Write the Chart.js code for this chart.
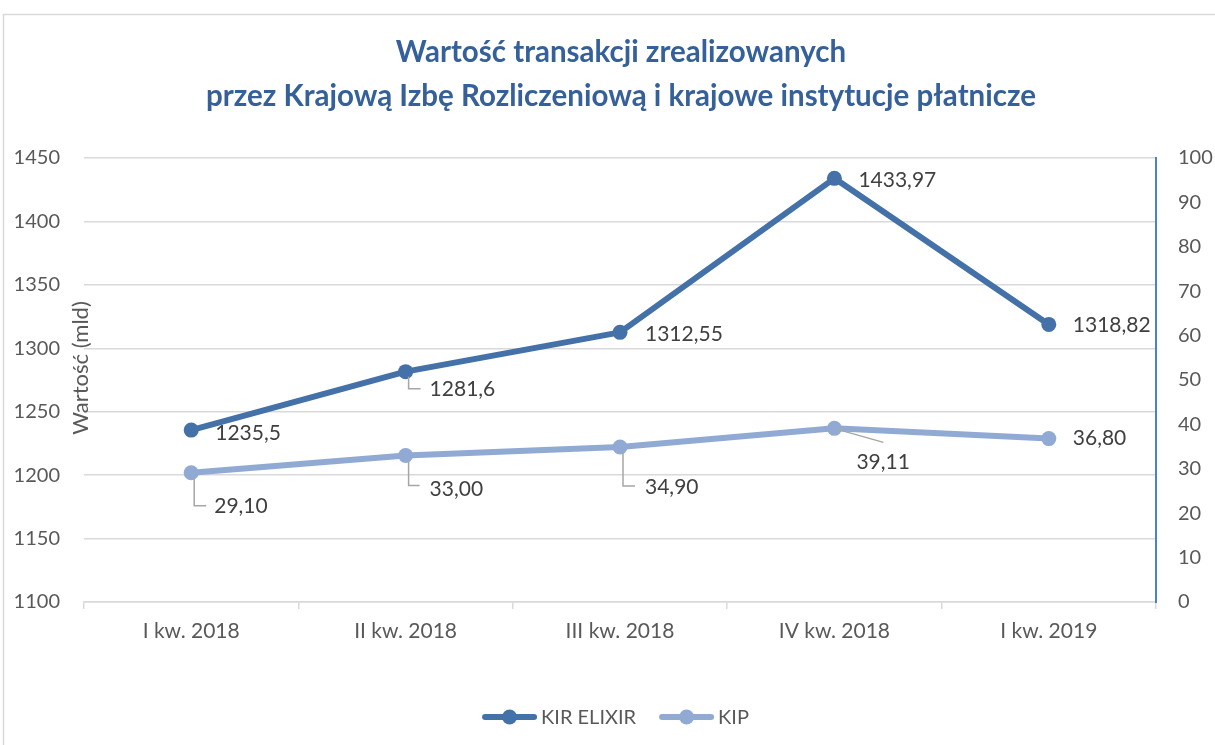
<!DOCTYPE html>
<html>
<head>
<meta charset="utf-8">
<script src="https://cdn.jsdelivr.net/npm/chart.js@4.4.1/dist/chart.umd.min.js"></script>
<style>
  html, body { margin: 0; padding: 0; background: #ffffff; }
  #wrap { width: 1215px; height: 745px; position: relative; }
</style>
</head>
<body>
<div id="wrap"><canvas id="c"></canvas></div>
<script>
// ---- data ----
const categories = ['I kw. 2018', 'II kw. 2018', 'III kw. 2018', 'IV kw. 2018', 'I kw. 2019'];
const kirElixir = [1235.5, 1281.6, 1312.55, 1433.97, 1318.82];
const kip = [29.10, 33.00, 34.90, 39.11, 36.80];
const leftAxis = { min: 1100, max: 1450, step: 50 };
const rightAxis = { min: 0, max: 100, step: 10 };
const titleLines = ['Wartość transakcji zrealizowanych', 'przez Krajową Izbę Rozliczeniową i krajowe instytucje płatnicze'];
const yTitle = 'Wartość (mld)';
const seriesNames = ['KIR ELIXIR', 'KIP'];

// ---- label placement (style only) ----
const kirLabelPos = [
  { dx: 24, dy: 3 },
  { dx: 24, dy: 18, leader: [[3, 5], [3, 17], [15, 17]] },
  { dx: 25, dy: 2 },
  { dx: 24, dy: 2 },
  { dx: 24, dy: 1 }
];
const kipLabelPos = [
  { dx: 23, dy: 33, leader: [[3, 5], [3, 33], [15, 33]] },
  { dx: 24, dy: 34, leader: [[3, 5], [3, 30], [14, 30]] },
  { dx: 25, dy: 40, leader: [[3, 5], [3, 39], [15, 39]] },
  { dx: 22, dy: 34, leader: [[3, 1], [49, 14]] },
  { dx: 24, dy: 0 }
];

const FONT = 'Lato, "Open Sans", sans-serif';
const C_KIR = '#4472A8';
const C_KIP = '#91AAD4';
const C_TEXT = '#595959';
const C_GRID = '#D9D9D9';
const C_TITLE = '#35609A';

const fmtKir = v => String(v).replace('.', ',');
const fmtKip = v => v.toFixed(2).replace('.', ',');

const decorPlugin = {
  id: 'decor',
  beforeDraw(chart) {
    const ctx = chart.ctx;
    ctx.save();
    ctx.strokeStyle = '#D9D9D9';
    ctx.lineWidth = 1.5;
    ctx.strokeRect(3.5, 14.5, 1230, 760);
    // title
    ctx.fillStyle = C_TITLE;
    ctx.font = 'bold 29.5px ' + FONT;
    ctx.textAlign = 'center';
    ctx.textBaseline = 'middle';
    titleLines.forEach((t, i) => ctx.fillText(t, 621, 52 + i * 44));
    ctx.restore();
  },
  afterDraw(chart) {
    const ctx = chart.ctx;
    ctx.save();
    // y axis title
    ctx.translate(81, 368);
    ctx.rotate(-Math.PI / 2);
    ctx.font = '22px ' + FONT;
    ctx.fillStyle = C_TEXT;
    ctx.textAlign = 'center';
    ctx.textBaseline = 'middle';
    ctx.fillText(yTitle, 0, 0);
    ctx.restore();

    // legend
    ctx.save();
    ctx.font = '20px ' + FONT;
    const lineLen = 55, gapText = 4, itemGap = 23;
    const colors = [C_KIR, C_KIP];
    const widths = seriesNames.map(n => ctx.measureText(n).width);
    let total = 0;
    widths.forEach((w, i) => { total += lineLen + gapText + w + (i < widths.length - 1 ? itemGap : 0); });
    let x = 615.5 - total / 2;
    const y = 717;
    seriesNames.forEach((n, i) => {
      ctx.strokeStyle = colors[i];
      ctx.lineWidth = 6;
      ctx.lineCap = 'round';
      ctx.beginPath();
      ctx.moveTo(x + 3, y);
      ctx.lineTo(x + lineLen - 3, y);
      ctx.stroke();
      ctx.fillStyle = colors[i];
      ctx.beginPath();
      ctx.arc(x + lineLen / 2, y, 7.5, 0, Math.PI * 2);
      ctx.fill();
      ctx.fillStyle = C_TEXT;
      ctx.textAlign = 'left';
      ctx.textBaseline = 'middle';
      ctx.fillText(n, x + lineLen + gapText, y + 1);
      x += lineLen + gapText + widths[i] + itemGap;
    });
    ctx.restore();
  },
  afterDatasetsDraw(chart) {
    const ctx = chart.ctx;
    const sets = [
      { idx: 0, pos: kirLabelPos, vals: kirElixir, fmt: fmtKir },
      { idx: 1, pos: kipLabelPos, vals: kip, fmt: fmtKip }
    ];
    ctx.save();
    ctx.font = '21px ' + FONT;
    ctx.fillStyle = '#404040';
    ctx.textAlign = 'left';
    ctx.textBaseline = 'middle';
    sets.forEach(s => {
      const meta = chart.getDatasetMeta(s.idx);
      meta.data.forEach((el, i) => {
        const p = s.pos[i];
        if (p.leader) {
          ctx.strokeStyle = '#A6A6A6';
          ctx.lineWidth = 1.5;
          ctx.beginPath();
          p.leader.forEach((pt, k) => {
            const px = el.x + pt[0], py = el.y + pt[1];
            if (k === 0) ctx.moveTo(px, py); else ctx.lineTo(px, py);
          });
          ctx.stroke();
        }
        ctx.fillText(s.fmt(s.vals[i]), el.x + p.dx, el.y + p.dy);
      });
    });
    ctx.restore();
  }
};

new Chart(document.getElementById('c'), {
  type: 'line',
  data: {
    labels: categories,
    datasets: [
      {
        label: seriesNames[0],
        data: kirElixir,
        yAxisID: 'y',
        borderColor: C_KIR,
        backgroundColor: C_KIR,
        borderWidth: 6,
        pointRadius: 7.5,
        pointHoverRadius: 7.5,
        pointBackgroundColor: C_KIR,
        pointBorderColor: C_KIR,
        pointBorderWidth: 0,
        tension: 0,
        borderJoinStyle: 'round',
        order: 1
      },
      {
        label: seriesNames[1],
        data: kip,
        yAxisID: 'y1',
        borderColor: C_KIP,
        backgroundColor: C_KIP,
        borderWidth: 6,
        pointRadius: 7.5,
        pointHoverRadius: 7.5,
        pointBackgroundColor: C_KIP,
        pointBorderColor: C_KIP,
        pointBorderWidth: 0,
        tension: 0,
        borderJoinStyle: 'round',
        order: 2
      }
    ]
  },
  options: {
    responsive: true,
    maintainAspectRatio: false,
    animation: false,
    layout: { padding: { left: 0, right: 0, top: 158, bottom: 0 } },
    plugins: {
      legend: { display: false },
      tooltip: { enabled: false },
      title: { display: false }
    },
    scales: {
      x: {
        offset: true,
        grid: { display: true, drawOnChartArea: false, drawTicks: true, tickLength: 7, offset: true, color: C_GRID, lineWidth: 1.5 },
        border: { display: true, color: C_GRID, width: 1.5 },
        ticks: { color: C_TEXT, font: { family: FONT, size: 21 }, padding: 10, maxRotation: 0, autoSkip: false },
        afterFit(s) { s.height = 143; }
      },
      y: {
        position: 'left',
        min: leftAxis.min,
        max: leftAxis.max,
        ticks: { stepSize: leftAxis.step, color: C_TEXT, font: { family: FONT, size: 20 }, padding: 24, callback: v => String(v) },
        grid: { color: C_GRID, lineWidth: 1.5, drawTicks: false },
        border: { display: false },
        afterFit(s) { s.width = 84; }
      },
      y1: {
        position: 'right',
        min: rightAxis.min,
        max: rightAxis.max,
        ticks: { stepSize: rightAxis.step, color: C_TEXT, font: { family: FONT, size: 20 }, padding: 22, callback: v => String(v) },
        grid: { drawOnChartArea: false, drawTicks: false },
        border: { display: true, color: '#4A84C8', width: 2 },
        afterFit(s) { s.width = 59; }
      }
    }
  },
  plugins: [decorPlugin]
});
</script>
</body>
</html>
